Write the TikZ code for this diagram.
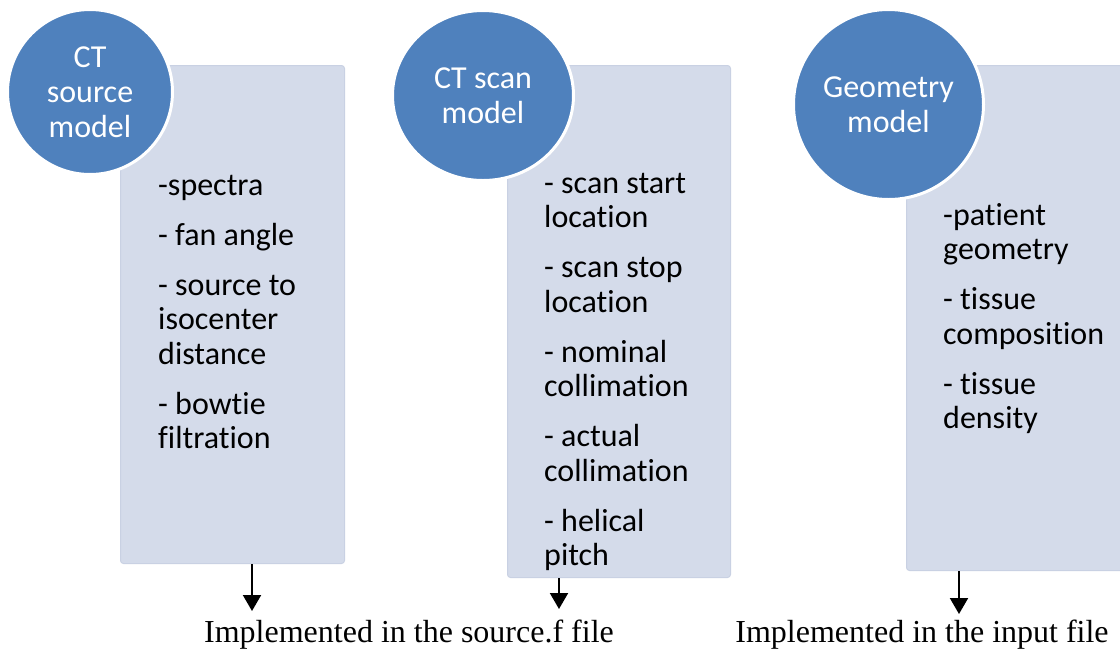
\documentclass[tikz,border=0pt]{standalone}
\usepackage{fontspec}
\setmainfont{Carlito}[Ligatures=NoCommon]
\newfontfamily\notefont{Liberation Serif}
\usetikzlibrary{arrows.meta,shapes.geometric}
\definecolor{circblue}{HTML}{4F81BD}
\definecolor{boxfill}{RGB}{212,219,234}
\definecolor{boxedge}{RGB}{201,209,227}
\newcommand{\firstln}{\rule{0pt}{24pt}}
\begin{document}
\begin{tikzpicture}[x=1pt,y=-1pt,
  listbox/.style={draw=boxedge, line width=1pt, fill=boxfill, rounded corners=3pt, inner sep=0pt, anchor=north west},
  bubble/.style={fill=circblue, draw=white, line width=3pt, text=white, align=center, inner sep=0pt, font=\fontsize{32}{35}\selectfont},
  itemtext/.style={anchor=north west, align=left, inner sep=0pt, font=\fontsize{32}{34.5}\selectfont},
  note/.style={anchor=base, inner sep=0pt, font=\notefont\fontsize{32}{38}\selectfont},
  flow/.style={-{Triangle[width=18pt,length=16pt]}, line width=2pt}
]
\useasboundingbox[fill=white] (0,0) rectangle (1120,649);

% list boxes
\node[listbox, minimum width=224pt, minimum height=498pt] (b1) at (120,65) {};
\node[listbox, minimum width=223pt, minimum height=512pt] (b2) at (507,65) {};
\node[listbox, minimum width=222pt, minimum height=505pt] (b3) at (906,65) {};

% circles
\node[bubble, circle, minimum size=165pt] (c1) at (90,92) {CT\\source\\model};
\node[bubble, ellipse, minimum width=181pt, minimum height=170pt] (c2) at (483,95.5) {CT scan\\model};
\node[bubble, circle, minimum size=190pt] (c3) at (888.5,104.5) {Geometry\\model};

% list texts (first baseline = y + 24)
\node[itemtext] (t1) at (158,171) {\firstln-spectra\\[15.5pt]- fan angle\\[15.5pt]- source to\\isocenter\\distance\\[15.5pt]- bowtie\\filtration};
\node[itemtext] (t2) at (544,169) {\firstln- scan start\\location\\[15.5pt]- scan stop\\location\\[15.5pt]- nominal\\collimation\\[15.5pt]- actual\\collimation\\[15.5pt]- helical\\pitch};
\node[itemtext] (t3) at (943,201) {\firstln-patient\\geometry\\[15.5pt]- tissue\\composition\\[15.5pt]- tissue\\density};

% notes
\node[note] (n1) at (409,642) {Implemented in the source.f file};
\node[note] (n2) at (922,642) {Implemented in the input file};

% arrows
\coordinate (a1) at (252,611);
\coordinate (a2) at (559,609);
\coordinate (a3) at (959,614);
\draw[flow] (b1.south -| a1) -- (a1);
\draw[flow] (b2.south -| a2) -- (a2);
\draw[flow] (b3.south -| a3) -- (a3);
\end{tikzpicture}
\end{document}
